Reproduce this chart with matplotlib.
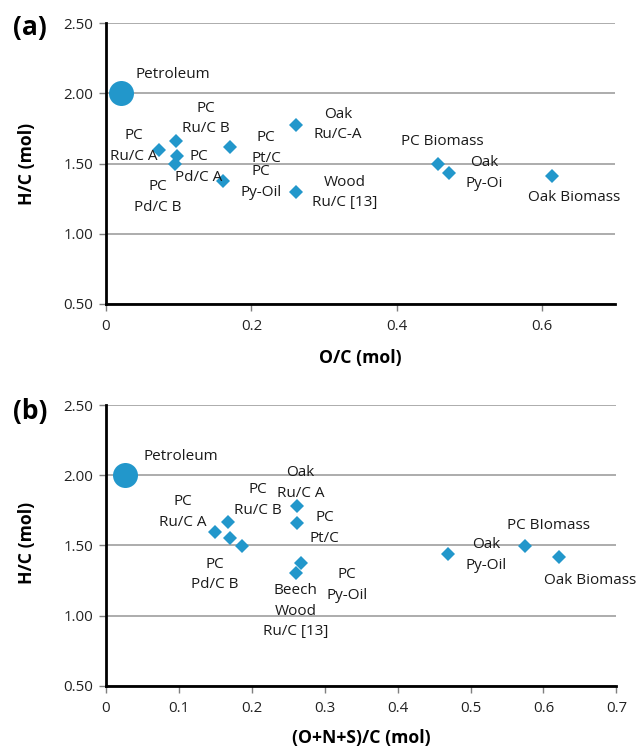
import matplotlib
matplotlib.use("Agg")
import matplotlib.pyplot as plt
from matplotlib.ticker import FixedLocator, FuncFormatter

plt.rcParams['font.family'] = ['Open Sans', 'DejaVu Sans']

# ---------------- data ----------------
names = ["Petroleum", "PC Ru/C A", "PC Ru/C B", "PC Pd/C A", "PC Pd/C B", "PC Pt/C",
         "PC Py-Oil", "Oak Ru/C-A", "Wood Ru/C [13]", "PC Biomass", "Oak Py-Oil", "Oak Biomass"]
oc_a = [0.020, 0.073, 0.096, 0.097, 0.095, 0.171, 0.161, 0.261, 0.261, 0.457, 0.4715, 0.613]
hc_a = [2.00, 1.60, 1.664, 1.552, 1.495, 1.616, 1.374, 1.777, 1.30, 1.498, 1.436, 1.415]
onsc_b = [0.026, 0.150, 0.167, 0.170, 0.187, 0.262, 0.2675, 0.262, 0.261, 0.575, 0.4696, 0.621]
hc_b = [2.00, 1.596, 1.664, 1.555, 1.496, 1.657, 1.374, 1.781, 1.30, 1.498, 1.439, 1.419]

labels_a = ["Petroleum", "PC\nRu/C B", "PC\nRu/C A", "PC\nPd/C A", "PC\nPd/C B", "PC\nPt/C",
            "PC\nPy-Oil", "Oak\nRu/C-A", "Wood\nRu/C [13]", "PC Biomass", "Oak\nPy-Oi", "Oak Biomass"]
labels_b = ["Petroleum", "PC\nRu/C A", "PC\nRu/C B", "Oak\nRu/C A", "PC\nPt/C", "PC\nPd/C B",
            "Beech\nWood\nRu/C [13]", "PC\nPy-Oil", "PC BIomass", "Oak\nPy-Oil", "Oak Biomass"]

xticks_a = [0, 0.2, 0.4, 0.6]
xticks_b = [0, 0.1, 0.2, 0.3, 0.4, 0.5, 0.6, 0.7]
yticks = [0.50, 1.00, 1.50, 2.00, 2.50]

# label placement (layout, data coordinates)
pos_a = [(0.0917, 2.133), (0.1376, 1.822), (0.0376, 1.624), (0.1275, 1.476), (0.0706, 1.264),
         (0.220, 1.612), (0.213, 1.369), (0.319, 1.778), (0.3287, 1.295), (0.463, 1.658),
         (0.520, 1.432), (0.643, 1.261)]
pos_b = [(0.1033, 2.136), (0.1055, 1.739), (0.2085, 1.823), (0.267, 1.946), (0.300, 1.624),
         (0.149, 1.291), (0.260, 1.029), (0.3306, 1.218), (0.6065, 1.643), (0.521, 1.431),
         (0.6637, 1.248)]

BLUE = '#2297CB'
GRID = '#A6A6A6'
FS = 11.0
TFS = 10.8
LFS = 12.7

fig = plt.figure(figsize=(6.38, 7.46), dpi=100)
ax_a = fig.add_axes([0.1661, 0.5925, 0.798, 0.3763])
ax_b = fig.add_axes([0.1661, 0.0808, 0.800, 0.3763])


def style(ax, xticks, xfmt):
    ax.set_xlim(0, 0.7)
    ax.set_ylim(0.5, 2.5)
    ax.yaxis.set_major_locator(FixedLocator(yticks))
    ax.xaxis.set_major_locator(FixedLocator(xticks))
    ax.yaxis.set_major_formatter(FuncFormatter(lambda v, p: f"{v:.2f}"))
    ax.xaxis.set_major_formatter(FuncFormatter(xfmt))
    ax.grid(axis='y', color=GRID, lw=1.3)
    ax.set_axisbelow(True)
    for s in ['top', 'right']:
        ax.spines[s].set_visible(False)
    for s in ['left', 'bottom']:
        ax.spines[s].set_linewidth(2.0)
        ax.spines[s].set_color('black')
        ax.spines[s].set_zorder(3)
    ax.tick_params(axis='both', direction='out', length=5, width=1.0, labelsize=TFS,
                   color='#7f7f7f', labelcolor='#222222')
    ax.tick_params(axis='y', pad=4)
    ax.tick_params(axis='x', pad=6)


def fmt_x(v, p):
    if abs(v) < 1e-9:
        return "0"
    return f"{v:.1f}"


style(ax_a, xticks_a, fmt_x)
style(ax_b, xticks_b, fmt_x)

for ax, xs, ys in [(ax_a, oc_a, hc_a), (ax_b, onsc_b, hc_b)]:
    ax.plot(xs[1:], ys[1:], linestyle='none', marker='D', markersize=7,
            color=BLUE, markeredgewidth=0, zorder=4, clip_on=False)
    ax.plot(xs[:1], ys[:1], linestyle='none', marker='o', markersize=18,
            color=BLUE, markeredgewidth=0, zorder=4, clip_on=False)

for ax, labs, poss in [(ax_a, labels_a, pos_a), (ax_b, labels_b, pos_b)]:
    for t, (x, y) in zip(labs, poss):
        ax.text(x, y, t, ha='center', va='center', fontsize=FS, linespacing=1.5,
                color='#1a1a1a', zorder=5)

ax_a.set_ylabel("H/C (mol)", fontsize=LFS, fontweight='bold')
ax_b.set_ylabel("H/C (mol)", fontsize=LFS, fontweight='bold')
ax_a.set_xlabel("O/C (mol)", fontsize=LFS, fontweight='bold')
ax_b.set_xlabel("(O+N+S)/C (mol)", fontsize=LFS, fontweight='bold')
ax_a.yaxis.set_label_coords(-0.1375, 0.5)
ax_b.yaxis.set_label_coords(-0.1375, 0.51)
ax_a.xaxis.set_label_coords(0.5, -0.160)
ax_b.xaxis.set_label_coords(0.5, -0.153)

fig.text(30 / 638, 1 - 27 / 746, "(a)", fontsize=19, fontweight='bold', ha='center', va='center')
fig.text(30 / 638, 1 - 412 / 746, "(b)", fontsize=19, fontweight='bold', ha='center', va='center')

fig.savefig("out.png", dpi=100)
